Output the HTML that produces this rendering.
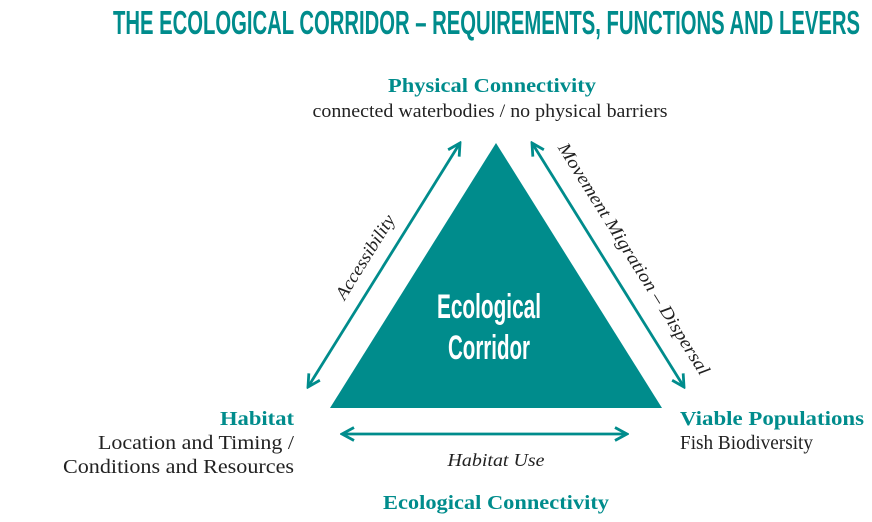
<!DOCTYPE html>
<html><head><meta charset="utf-8"><style>
html,body{margin:0;padding:0;background:#fff;}
svg{display:block;}
</style></head><body>
<svg width="872" height="522" viewBox="0 0 872 522" xmlns="http://www.w3.org/2000/svg">
<defs>
<marker id="ah" viewBox="0 0 16 16" refX="14" refY="8" markerWidth="16" markerHeight="16" markerUnits="userSpaceOnUse" orient="auto-start-reverse">
<path d="M2,1.5 L14,8 L2,14.5" fill="none" stroke="#008c8c" stroke-width="2.8"/>
</marker>
</defs>
<text x="113" y="34" font-family="Liberation Sans Narrow, Liberation Sans, sans-serif" font-weight="bold" font-size="33" fill="#008c8c" textLength="747" lengthAdjust="spacingAndGlyphs">THE ECOLOGICAL CORRIDOR – REQUIREMENTS, FUNCTIONS AND LEVERS</text>

<polygon points="496,143 330,408 662,408" fill="#008c8c"/>
<text x="489" y="318" text-anchor="middle" font-family="Liberation Sans Narrow, Liberation Sans, sans-serif" font-weight="bold" font-size="34" fill="#fff" textLength="104" lengthAdjust="spacingAndGlyphs">Ecological</text>
<text x="489" y="359" text-anchor="middle" font-family="Liberation Sans Narrow, Liberation Sans, sans-serif" font-weight="bold" font-size="34" fill="#fff" textLength="82" lengthAdjust="spacingAndGlyphs">Corridor</text>

<line x1="460" y1="143" x2="308" y2="387" stroke="#008c8c" stroke-width="2.8" marker-start="url(#ah)" marker-end="url(#ah)"/>
<line x1="532" y1="143" x2="684" y2="387" stroke="#008c8c" stroke-width="2.8" marker-start="url(#ah)" marker-end="url(#ah)"/>
<line x1="342" y1="434" x2="627" y2="434" stroke="#008c8c" stroke-width="2.8" marker-start="url(#ah)" marker-end="url(#ah)"/>

<g font-family="Liberation Serif, serif" fill="#222">
<text transform="translate(370,260) rotate(-58)" text-anchor="middle" font-style="italic" font-size="18" textLength="96" lengthAdjust="spacingAndGlyphs">Accessibility</text>
<text transform="translate(629,262) rotate(58)" text-anchor="middle" font-style="italic" font-size="18" textLength="270" lengthAdjust="spacingAndGlyphs">Movement Migration – Dispersal</text>
<text x="496" y="466" text-anchor="middle" font-style="italic" font-size="18" textLength="97" lengthAdjust="spacingAndGlyphs">Habitat Use</text>

<text x="492" y="92" text-anchor="middle" font-weight="bold" font-size="20" fill="#008c8c" textLength="208" lengthAdjust="spacingAndGlyphs">Physical Connectivity</text>
<text x="490" y="117" text-anchor="middle" font-size="19" textLength="355" lengthAdjust="spacingAndGlyphs">connected waterbodies / no physical barriers</text>

<text x="294" y="425" text-anchor="end" font-weight="bold" font-size="20" fill="#008c8c" textLength="74" lengthAdjust="spacingAndGlyphs">Habitat</text>
<text x="294" y="449" text-anchor="end" font-size="20" textLength="196" lengthAdjust="spacingAndGlyphs">Location and Timing /</text>
<text x="294" y="473" text-anchor="end" font-size="20" textLength="231" lengthAdjust="spacingAndGlyphs">Conditions and Resources</text>

<text x="680" y="425" font-weight="bold" font-size="20" fill="#008c8c" textLength="184" lengthAdjust="spacingAndGlyphs">Viable Populations</text>
<text x="680" y="449" font-size="20" textLength="133" lengthAdjust="spacingAndGlyphs">Fish Biodiversity</text>

<text x="496" y="509" text-anchor="middle" font-weight="bold" font-size="20" fill="#008c8c" textLength="226" lengthAdjust="spacingAndGlyphs">Ecological Connectivity</text>
</g>
</svg>
</body></html>
